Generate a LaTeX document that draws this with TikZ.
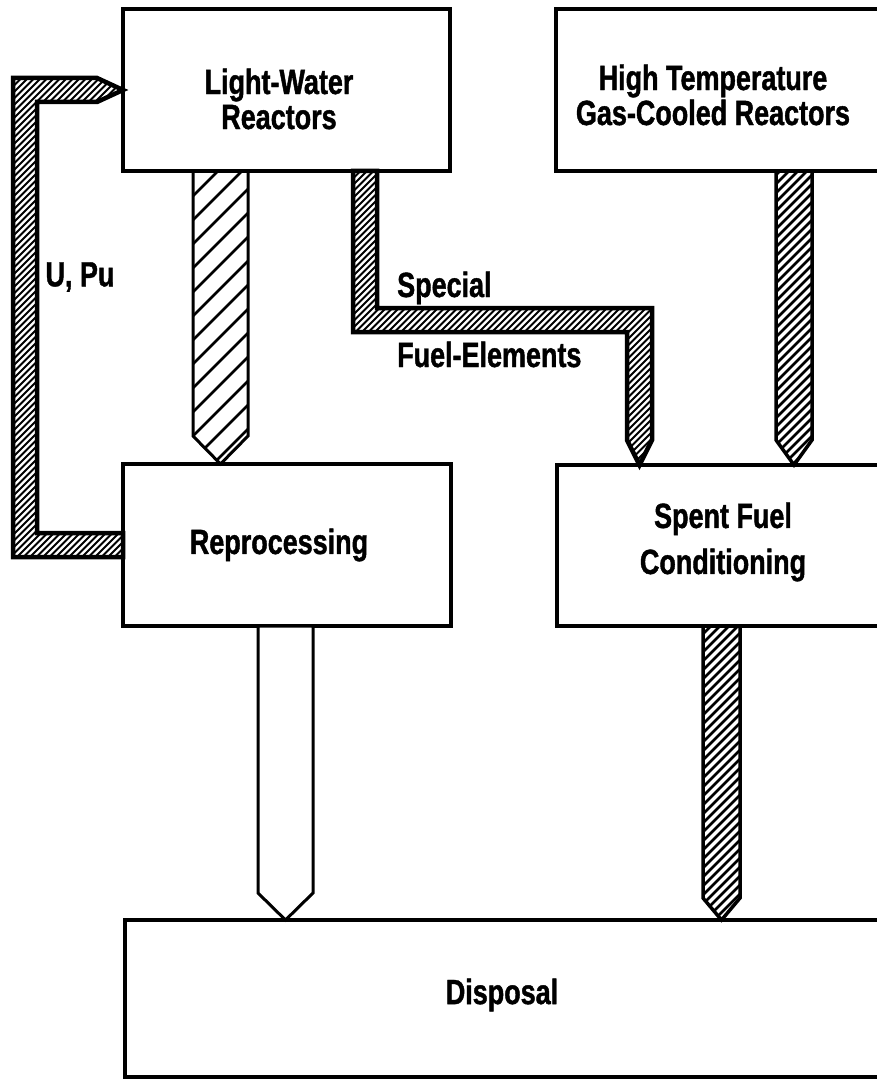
\documentclass[tikz,border=0pt]{standalone}
\usepackage{fontspec}
\setmainfont{Liberation Sans}[FakeStretch=0.77,BoldFeatures={FakeBold=1.2}]
\usetikzlibrary{calc}
% #1 path, #2 first x, #3 bottom y, #4 length, #5 step, #6 count, #7 hatch width, #8 border width
\newcommand\hatcharrow[8]{%
  \begin{scope}
    \clip #1;
    \foreach \i in {0,...,#6}
      \draw[line width=#7] ({#2+\i*#5},#3) -- ++(#4,-#4);
  \end{scope}
  \draw[line width=#8,line join=miter] #1;}
\begin{document}
\begin{tikzpicture}[x=1pt,y=-1pt,
  box/.style={draw,line width=3.5pt,fill=white,inner sep=0pt,outer sep=0pt},
  txt/.style={font=\bfseries\fontsize{35}{35}\selectfont,align=center,inner sep=0pt},
  hollowarrow/.style={draw,line width=3pt,line join=miter,fill=white}]
\fill[white] (0,0) rectangle (877,1083);
\useasboundingbox (0,0) rectangle (877,1083);
% boxes
\node[box,minimum width=327pt,minimum height=162pt] (lwr) at (286.5,90) {};
\node[box,minimum width=323pt,minimum height=162pt] (htgr) at (717.5,90) {};
\node[box,minimum width=328pt,minimum height=162pt] (rep) at (287,545) {};
\node[box,minimum width=322pt,minimum height=161pt] (sfc) at (718,545.5) {};
\node[box,minimum width=754pt,minimum height=157pt] (disp) at (502,998.5) {};
% texts
\node[txt] (lwrT) at (279,99) {Light-Water\\Reactors};
\node[txt] (htgrT) at (713,95) {High Temperature\\Gas-Cooled Reactors};
\node[txt] (repT) at (279,545) {Reprocessing};
\node[txt,font=\bfseries\fontsize{35}{46}\selectfont] (sfcT) at (723,542) {Spent Fuel\\Conditioning};
\node[txt] (dispT) at (502,995) {Disposal};
\node[txt,anchor=base west] (spec) at (397,297) {Special};
\node[txt,anchor=base west] (fe) at (397,367) {Fuel-Elements};
\node[txt] (upu) at (80,277) {U, Pu};
% LWR -> Reprocessing (wide, sparse hatching)
\hatcharrow{(193,0 |- lwr.south) -- (193,436) -- (220.5,0 |- rep.north)
  -- (248,436) -- (248,0 |- lwr.south) -- cycle}{-105}{470}{300}{24}{15}{2.5pt}{3pt}
% LWR -> Spent Fuel Conditioning (special fuel elements)
\hatcharrow{(353,0 |- lwr.south) -- (353,332) -- (627,332) -- (627,440)
  -- (639.5,0 |- sfc.north) -- (652,440) -- (652,308) -- (377,308)
  -- (377,0 |- lwr.south) -- cycle}{55}{470}{300}{6.5}{92}{2.1pt}{4.5pt}
% HTGR -> Spent Fuel Conditioning
\hatcharrow{(776,0 |- htgr.south) -- (776,440) -- (794,0 |- sfc.north)
  -- (812,440) -- (812,0 |- htgr.south) -- cycle}{472}{470}{300}{9}{38}{2.6pt}{3.5pt}
% Reprocessing -> LWR (U, Pu)
\hatcharrow{(rep.west |- 0,557) -- (13,557) -- (13,78) -- (97,78)
  -- (lwr.west) -- (97,102) -- (37,102) -- (37,533) -- (rep.west |- 0,533) -- cycle}{-480}{560}{490}{6.5}{93}{2.1pt}{4.5pt}
% Reprocessing -> Disposal (hollow)
\draw[hollowarrow] (258,0 |- rep.south) -- (258,893) -- (285.5,0 |- disp.north)
  -- (313,893) -- (313,0 |- rep.south) -- cycle;
% Spent Fuel Conditioning -> Disposal
\hatcharrow{(703,0 |- sfc.south) -- (703,898) -- (721.5,0 |- disp.north)
  -- (740,898) -- (740,0 |- sfc.south) -- cycle}{403}{925}{305}{9}{38}{2.6pt}{3.5pt}
\end{tikzpicture}
\end{document}
